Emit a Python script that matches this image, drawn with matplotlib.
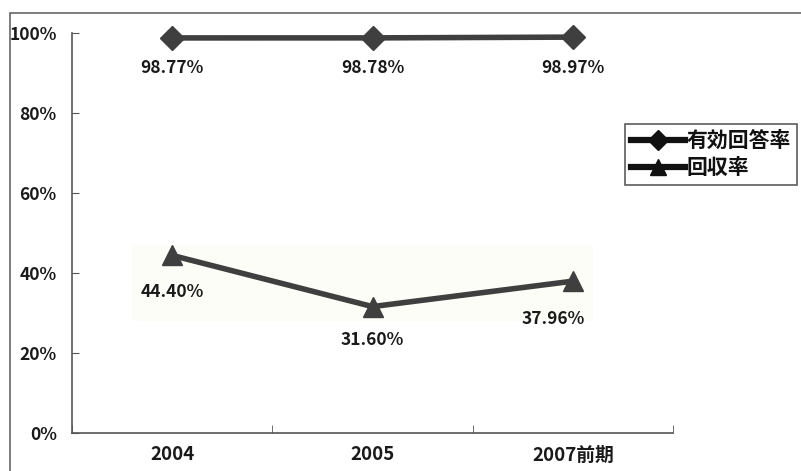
import matplotlib.pyplot as plt
from matplotlib.patches import Rectangle
from matplotlib.lines import Line2D

# data
categories = ['2004', '2005', '2007前期']
valid_rate = [98.77, 98.78, 98.97]     # 有効回答率
return_rate = [44.40, 31.60, 37.96]    # 回収率
series_names = ['有効回答率', '回収率']
y_ticks = [0, 20, 40, 60, 80, 100]

plt.rcParams['font.family'] = ['Noto Sans CJK JP', 'DejaVu Sans']

W, H = 801, 471
fig = plt.figure(figsize=(W / 100, H / 100), dpi=100)
fig.patch.set_facecolor('white')

# outer chart border (runs off the right and bottom of the scan)
fig.patches.append(Rectangle((10 / W, -0.1), 1.2, 1 - 13 / H + 0.1,
                             transform=fig.transFigure, fill=False,
                             edgecolor='#666666', linewidth=1.2))

ax = fig.add_axes([72 / W, 38 / H, (673 - 72) / W, (433 - 33) / H])
ax.set_facecolor('none')

# faint shaded band seen behind the lower series in the scan
ax.add_patch(Rectangle((-0.2, 28), 2.3, 19, facecolor='#fdfdf7',
                       edgecolor='none', zorder=0))

x = [0, 1, 2]
col = '#3f3f3f'
ax.plot(x, valid_rate, color=col, lw=4, marker='D', ms=12,
        markeredgecolor=col, markerfacecolor=col, clip_on=False, zorder=3)
ax.plot(x, return_rate, color=col, lw=4, marker='^', ms=15,
        markeredgecolor=col, markerfacecolor=col, clip_on=False, zorder=3)

lab = dict(fontsize=12.5, fontweight='bold', color='#1a1a1a')

# data labels
for i, v in enumerate(valid_rate):
    ax.annotate(f'{v:.2f}%', (x[i], v), xytext=(0, -22), textcoords='offset points',
                ha='center', va='center', **lab)
offsets = [(0, -26), (0, -24), (-14, -27)]
for i, v in enumerate(return_rate):
    ax.annotate(f'{v:.2f}%', (x[i], v), xytext=offsets[i], textcoords='offset points',
                ha='center', va='center', **lab)

ax.set_xlim(-0.5, 2.5)
ax.set_ylim(0, 100)
ax.set_yticks(y_ticks)
ax.set_yticklabels([f'{t}%' for t in y_ticks], **lab)
ax.set_xticks(x)
ax.set_xticklabels(categories, fontsize=13.5, fontweight='bold', color='#1a1a1a')
ax.set_xticks([-0.5, 0.5, 1.5, 2.5], minor=True)
ax.tick_params(axis='y', direction='in', length=5, pad=11, color='#555555')
ax.tick_params(axis='x', which='major', length=0, pad=9)
ax.tick_params(axis='x', which='minor', direction='in', length=6, color='#555555')

for s in ['top', 'right']:
    ax.spines[s].set_visible(False)
for s in ['left', 'bottom']:
    ax.spines[s].set_color('#555555')
    ax.spines[s].set_linewidth(1.2)

handles = [
    Line2D([], [], color='#111111', lw=4.5, marker='D', ms=10),
    Line2D([], [], color='#111111', lw=4.5, marker='^', ms=12),
]
leg = fig.legend(handles, series_names, loc='upper left',
                 bbox_to_anchor=(625 / W, 1 - 124 / H), fontsize=15,
                 frameon=True, fancybox=False, borderpad=0.3, handlelength=2.6,
                 handletextpad=0.05, labelspacing=0.3, borderaxespad=0)
leg.get_frame().set_edgecolor('#333333')
leg.get_frame().set_linewidth(1.2)
for t in leg.get_texts():
    t.set_fontweight('bold')
    t.set_color('#111111')

fig.savefig('out.png', dpi=100)
